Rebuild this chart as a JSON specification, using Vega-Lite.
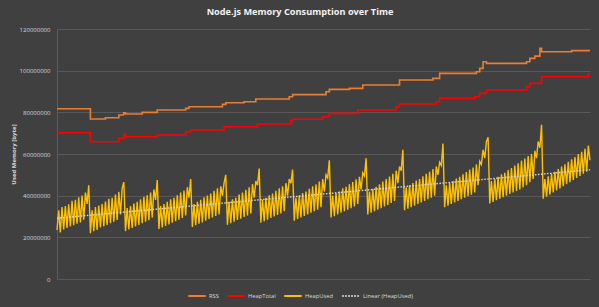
{
  "$schema": "https://vega.github.io/schema/vega-lite/v6.json",
  "autosize": {"type": "none"},
  "width": 533,
  "height": 250,
  "padding": {"left": 57, "top": 29, "right": 9, "bottom": 28},
  "background": "#404040",
  "title": {
    "text": "Node.js Memory Consumption over Time",
    "font": "Open Sans",
    "fontSize": 9.2,
    "fontWeight": "bold",
    "color": "#f2f2f2",
    "anchor": "middle",
    "dx": -23.5,
    "offset": 9
  },
  "config": {
    "view": {"stroke": null},
    "font": "Open Sans"
  },
  "datasets": {
    "heap": [
      {"t":0,"bytes":23500000},{"t":1,"bytes":33000000},{"t":2,"bytes":22300000},{"t":3,"bytes":34500000},{"t":4,"bytes":23800000},{"t":5,"bytes":35000000},{"t":6,"bytes":24500000},{"t":7,"bytes":35800000},{"t":8,"bytes":25200000},{"t":9,"bytes":37500000},
      {"t":10,"bytes":25800000},{"t":11,"bytes":38000000},{"t":12,"bytes":26500000},{"t":13,"bytes":39200000},{"t":14,"bytes":27200000},{"t":15,"bytes":40000000},{"t":16,"bytes":28500000},{"t":17,"bytes":41500000},{"t":18,"bytes":36000000},{"t":19,"bytes":45000000},
      {"t":20,"bytes":22000000},{"t":21,"bytes":33000000},{"t":22,"bytes":23000000},{"t":23,"bytes":34500000},{"t":24,"bytes":23500000},{"t":25,"bytes":35200000},{"t":26,"bytes":24800000},{"t":27,"bytes":36000000},{"t":28,"bytes":25300000},{"t":29,"bytes":37200000},
      {"t":30,"bytes":26000000},{"t":31,"bytes":38500000},{"t":32,"bytes":26800000},{"t":33,"bytes":39000000},{"t":34,"bytes":27500000},{"t":35,"bytes":40500000},{"t":36,"bytes":28300000},{"t":37,"bytes":41800000},{"t":38,"bytes":31000000},{"t":39,"bytes":43500000},
      {"t":40,"bytes":46500000},{"t":41,"bytes":23000000},{"t":42,"bytes":34000000},{"t":43,"bytes":23800000},{"t":44,"bytes":35000000},{"t":45,"bytes":24500000},{"t":46,"bytes":36200000},{"t":47,"bytes":25200000},{"t":48,"bytes":37000000},{"t":49,"bytes":26000000},
      {"t":50,"bytes":38300000},{"t":51,"bytes":26800000},{"t":52,"bytes":39500000},{"t":53,"bytes":27500000},{"t":54,"bytes":40200000},{"t":55,"bytes":28200000},{"t":56,"bytes":41500000},{"t":57,"bytes":29500000},{"t":58,"bytes":43000000},{"t":59,"bytes":38000000},
      {"t":60,"bytes":47500000},{"t":61,"bytes":24000000},{"t":62,"bytes":35000000},{"t":63,"bytes":24800000},{"t":64,"bytes":36000000},{"t":65,"bytes":25500000},{"t":66,"bytes":37000000},{"t":67,"bytes":26200000},{"t":68,"bytes":38300000},{"t":69,"bytes":27000000},
      {"t":70,"bytes":39000000},{"t":71,"bytes":27800000},{"t":72,"bytes":40200000},{"t":73,"bytes":28500000},{"t":74,"bytes":41500000},{"t":75,"bytes":29300000},{"t":76,"bytes":42500000},{"t":77,"bytes":30500000},{"t":78,"bytes":44000000},{"t":79,"bytes":39000000},
      {"t":80,"bytes":48000000},{"t":81,"bytes":25000000},{"t":82,"bytes":36000000},{"t":83,"bytes":25800000},{"t":84,"bytes":37000000},{"t":85,"bytes":26500000},{"t":86,"bytes":38000000},{"t":87,"bytes":27200000},{"t":88,"bytes":39200000},{"t":89,"bytes":28000000},
      {"t":90,"bytes":40000000},{"t":91,"bytes":28800000},{"t":92,"bytes":41000000},{"t":93,"bytes":29500000},{"t":94,"bytes":42300000},{"t":95,"bytes":30300000},{"t":96,"bytes":43500000},{"t":97,"bytes":31000000},{"t":98,"bytes":44500000},{"t":99,"bytes":40000000},
      {"t":100,"bytes":46000000},{"t":101,"bytes":50000000},{"t":102,"bytes":26000000},{"t":103,"bytes":37000000},{"t":104,"bytes":26800000},{"t":105,"bytes":38200000},{"t":106,"bytes":27500000},{"t":107,"bytes":39000000},{"t":108,"bytes":28300000},{"t":109,"bytes":40500000},
      {"t":110,"bytes":29000000},{"t":111,"bytes":41500000},{"t":112,"bytes":29800000},{"t":113,"bytes":42800000},{"t":114,"bytes":30500000},{"t":115,"bytes":44000000},{"t":116,"bytes":31500000},{"t":117,"bytes":45500000},{"t":118,"bytes":39000000},{"t":119,"bytes":47000000},
      {"t":120,"bytes":45000000},{"t":121,"bytes":53000000},{"t":122,"bytes":27000000},{"t":123,"bytes":38000000},{"t":124,"bytes":27800000},{"t":125,"bytes":39000000},{"t":126,"bytes":28500000},{"t":127,"bytes":40200000},{"t":128,"bytes":29300000},{"t":129,"bytes":41000000},
      {"t":130,"bytes":30000000},{"t":131,"bytes":42300000},{"t":132,"bytes":30800000},{"t":133,"bytes":43500000},{"t":134,"bytes":31500000},{"t":135,"bytes":44500000},{"t":136,"bytes":32500000},{"t":137,"bytes":46000000},{"t":138,"bytes":40000000},{"t":139,"bytes":48000000},
      {"t":140,"bytes":46000000},{"t":141,"bytes":52500000},{"t":142,"bytes":28000000},{"t":143,"bytes":39000000},{"t":144,"bytes":28800000},{"t":145,"bytes":40000000},{"t":146,"bytes":29500000},{"t":147,"bytes":41200000},{"t":148,"bytes":30300000},{"t":149,"bytes":42000000},
      {"t":150,"bytes":31000000},{"t":151,"bytes":43300000},{"t":152,"bytes":31800000},{"t":153,"bytes":44500000},{"t":154,"bytes":32500000},{"t":155,"bytes":45500000},{"t":156,"bytes":33300000},{"t":157,"bytes":46800000},{"t":158,"bytes":34500000},{"t":159,"bytes":48000000},
      {"t":160,"bytes":42000000},{"t":161,"bytes":50000000},{"t":162,"bytes":48500000},{"t":163,"bytes":57000000},{"t":164,"bytes":29500000},{"t":165,"bytes":40000000},{"t":166,"bytes":30200000},{"t":167,"bytes":41200000},{"t":168,"bytes":31000000},{"t":169,"bytes":42000000},
      {"t":170,"bytes":31800000},{"t":171,"bytes":43500000},{"t":172,"bytes":32500000},{"t":173,"bytes":44300000},{"t":174,"bytes":33300000},{"t":175,"bytes":45500000},{"t":176,"bytes":34000000},{"t":177,"bytes":46500000},{"t":178,"bytes":34800000},{"t":179,"bytes":47800000},
      {"t":180,"bytes":36000000},{"t":181,"bytes":49000000},{"t":182,"bytes":43000000},{"t":183,"bytes":51000000},{"t":184,"bytes":49500000},{"t":185,"bytes":58000000},{"t":186,"bytes":31000000},{"t":187,"bytes":42000000},{"t":188,"bytes":31800000},{"t":189,"bytes":43200000},
      {"t":190,"bytes":32500000},{"t":191,"bytes":44300000},{"t":192,"bytes":33300000},{"t":193,"bytes":45500000},{"t":194,"bytes":34000000},{"t":195,"bytes":46800000},{"t":196,"bytes":34800000},{"t":197,"bytes":48000000},{"t":198,"bytes":35500000},{"t":199,"bytes":49200000},
      {"t":200,"bytes":36500000},{"t":201,"bytes":50500000},{"t":202,"bytes":37500000},{"t":203,"bytes":52000000},{"t":204,"bytes":46000000},{"t":205,"bytes":54000000},{"t":206,"bytes":52000000},{"t":207,"bytes":62000000},{"t":208,"bytes":33000000},{"t":209,"bytes":44000000},
      {"t":210,"bytes":33800000},{"t":211,"bytes":45000000},{"t":212,"bytes":34500000},{"t":213,"bytes":46000000},{"t":214,"bytes":35200000},{"t":215,"bytes":47200000},{"t":216,"bytes":36000000},{"t":217,"bytes":48000000},{"t":218,"bytes":36800000},{"t":219,"bytes":49300000},
      {"t":220,"bytes":37500000},{"t":221,"bytes":50500000},{"t":222,"bytes":38300000},{"t":223,"bytes":51500000},{"t":224,"bytes":39000000},{"t":225,"bytes":52800000},{"t":226,"bytes":40000000},{"t":227,"bytes":54000000},{"t":228,"bytes":50000000},{"t":229,"bytes":56000000},
      {"t":230,"bytes":54500000},{"t":231,"bytes":65000000},{"t":232,"bytes":34500000},{"t":233,"bytes":45000000},{"t":234,"bytes":35200000},{"t":235,"bytes":46000000},{"t":236,"bytes":36000000},{"t":237,"bytes":47000000},{"t":238,"bytes":36800000},{"t":239,"bytes":48200000},
      {"t":240,"bytes":37500000},{"t":241,"bytes":49000000},{"t":242,"bytes":38300000},{"t":243,"bytes":50200000},{"t":244,"bytes":39000000},{"t":245,"bytes":51300000},{"t":246,"bytes":39800000},{"t":247,"bytes":52500000},{"t":248,"bytes":40500000},{"t":249,"bytes":53500000},
      {"t":250,"bytes":41500000},{"t":251,"bytes":55000000},{"t":252,"bytes":45000000},{"t":253,"bytes":56500000},{"t":254,"bytes":55000000},{"t":255,"bytes":62000000},{"t":256,"bytes":58000000},{"t":257,"bytes":66000000},{"t":258,"bytes":68000000},{"t":259,"bytes":36300000},
      {"t":260,"bytes":47000000},{"t":261,"bytes":37000000},{"t":262,"bytes":48000000},{"t":263,"bytes":37800000},{"t":264,"bytes":49000000},{"t":265,"bytes":38500000},{"t":266,"bytes":50200000},{"t":267,"bytes":39300000},{"t":268,"bytes":51000000},{"t":269,"bytes":40000000},
      {"t":270,"bytes":52300000},{"t":271,"bytes":40800000},{"t":272,"bytes":53200000},{"t":273,"bytes":41500000},{"t":274,"bytes":54500000},{"t":275,"bytes":42300000},{"t":276,"bytes":55500000},{"t":277,"bytes":43000000},{"t":278,"bytes":56800000},{"t":279,"bytes":44000000},
      {"t":280,"bytes":57800000},{"t":281,"bytes":45000000},{"t":282,"bytes":59000000},{"t":283,"bytes":46500000},{"t":284,"bytes":60000000},{"t":285,"bytes":48000000},{"t":286,"bytes":61500000},{"t":287,"bytes":58000000},{"t":288,"bytes":66000000},{"t":289,"bytes":63000000},
      {"t":290,"bytes":74000000},{"t":291,"bytes":38500000},{"t":292,"bytes":48000000},{"t":293,"bytes":39500000},{"t":294,"bytes":49300000},{"t":295,"bytes":40500000},{"t":296,"bytes":50500000},{"t":297,"bytes":41500000},{"t":298,"bytes":51500000},{"t":299,"bytes":42500000},
      {"t":300,"bytes":52800000},{"t":301,"bytes":43500000},{"t":302,"bytes":54000000},{"t":303,"bytes":44500000},{"t":304,"bytes":55000000},{"t":305,"bytes":45500000},{"t":306,"bytes":56300000},{"t":307,"bytes":46500000},{"t":308,"bytes":57500000},{"t":309,"bytes":47500000},
      {"t":310,"bytes":58500000},{"t":311,"bytes":48500000},{"t":312,"bytes":60000000},{"t":313,"bytes":49500000},{"t":314,"bytes":61000000},{"t":315,"bytes":50500000},{"t":316,"bytes":62500000},{"t":317,"bytes":51500000},{"t":318,"bytes":64000000},{"t":319,"bytes":57000000}
    ],
    "rss": [
      {"t":0,"bytes":81700000},{"t":20,"bytes":76800000},{"t":29,"bytes":77400000},{"t":37,"bytes":78700000},{"t":40,"bytes":79800000},{"t":41,"bytes":79200000},
      {"t":51,"bytes":80000000},{"t":60,"bytes":81100000},{"t":77,"bytes":81900000},{"t":79,"bytes":82700000},{"t":99,"bytes":83800000},{"t":101,"bytes":84600000},
      {"t":112,"bytes":85100000},{"t":119,"bytes":86400000},{"t":139,"bytes":87500000},{"t":141,"bytes":88500000},{"t":161,"bytes":89900000},{"t":163,"bytes":91000000},
      {"t":175,"bytes":91500000},{"t":183,"bytes":93100000},{"t":205,"bytes":95500000},{"t":225,"bytes":96300000},{"t":229,"bytes":98700000},{"t":251,"bytes":99500000},
      {"t":253,"bytes":101100000},{"t":255,"bytes":104300000},{"t":257,"bytes":103500000},{"t":281,"bytes":104300000},{"t":283,"bytes":105900000},{"t":286,"bytes":107000000},
      {"t":289,"bytes":110700000},{"t":290,"bytes":109100000},{"t":308,"bytes":109600000},{"t":319,"bytes":109600000}
    ],
    "ht": [
      {"t":0,"bytes":70200000},{"t":20,"bytes":65900000},{"t":37,"bytes":67500000},{"t":40,"bytes":69500000},{"t":41,"bytes":68300000},{"t":60,"bytes":69100000},
      {"t":77,"bytes":70700000},{"t":80,"bytes":71500000},{"t":100,"bytes":73100000},{"t":120,"bytes":74400000},{"t":140,"bytes":76000000},{"t":141,"bytes":76700000},
      {"t":159,"bytes":77900000},{"t":163,"bytes":79500000},{"t":180,"bytes":81100000},{"t":203,"bytes":82700000},{"t":205,"bytes":84000000},{"t":227,"bytes":85100000},
      {"t":229,"bytes":86700000},{"t":250,"bytes":87500000},{"t":253,"bytes":89100000},{"t":257,"bytes":90700000},{"t":281,"bytes":92300000},{"t":283,"bytes":93900000},
      {"t":290,"bytes":97100000},{"t":318,"bytes":98400000},{"t":319,"bytes":98400000}
    ]
  },
  "encoding": {
    "x": {"field": "t", "type": "quantitative", "axis": null, "scale": {"domain": [0, 319], "nice": false, "zero": false}},
    "y": {
      "field": "bytes", "type": "quantitative",
      "scale": {"domain": [0, 120000000], "nice": false},
      "axis": {
        "title": "Used Memory [byte]",
        "values": [0, 20000000, 40000000, 60000000, 80000000, 100000000, 120000000],
        "format": "d",
        "ticks": false,
        "domain": true,
        "domainColor": "#5e5e5e",
        "gridColor": "#595959",
        "gridWidth": 1,
        "labelFont": "Open Sans",
        "labelFontSize": 6,
        "labelColor": "#d9d9d9",
        "labelPadding": 7,
        "titleFont": "Open Sans",
        "titleFontSize": 6,
        "titleFontWeight": "bold",
        "titleColor": "#d9d9d9",
        "titlePadding": 3
      }
    },
    "color": {
      "datum": "RSS",
      "type": "nominal",
      "scale": {
        "domain": ["RSS", "HeapTotal", "HeapUsed", "Linear (HeapUsed)"],
        "range": ["#ED7D31", "#FF0000", "#FFC000", "#D9D9D9"]
      },
      "legend": {
        "title": null, "orient": "none", "direction": "horizontal", "legendX": 130, "legendY": 257,
        "symbolType": "stroke", "symbolSize": 306, "symbolStrokeWidth": 2,
        "labelFont": "Open Sans", "labelFontSize": 5.8, "labelColor": "#d9d9d9",
        "labelOffset": 2, "columnPadding": 4
      }
    },
    "strokeDash": {
      "datum": "RSS",
      "type": "nominal",
      "scale": {
        "domain": ["RSS", "HeapTotal", "HeapUsed", "Linear (HeapUsed)"],
        "range": [[1, 0], [1, 0], [1, 0], [1.5, 1.5]]
      },
      "legend": {
        "title": null, "orient": "none", "direction": "horizontal", "legendX": 130, "legendY": 257,
        "symbolType": "stroke", "symbolSize": 306, "symbolStrokeWidth": 2,
        "labelFont": "Open Sans", "labelFontSize": 5.8, "labelColor": "#d9d9d9",
        "labelOffset": 2, "columnPadding": 4
      }
    }
  },
  "layer": [
    {
      "data": {"name": "rss"},
      "mark": {"type": "line", "interpolate": "step-after", "strokeWidth": 1.6},
      "encoding": {"color": {"datum": "RSS"}, "strokeDash": {"datum": "RSS"}}
    },
    {
      "data": {"name": "ht"},
      "mark": {"type": "line", "interpolate": "step-after", "strokeWidth": 1.6},
      "encoding": {"color": {"datum": "HeapTotal"}, "strokeDash": {"datum": "HeapTotal"}}
    },
    {
      "data": {"name": "heap"},
      "mark": {"type": "line", "strokeWidth": 1.4},
      "encoding": {"color": {"datum": "HeapUsed"}, "strokeDash": {"datum": "HeapUsed"}}
    },
    {
      "data": {"name": "heap"},
      "transform": [{"regression": "bytes", "on": "t"}],
      "mark": {"type": "line", "strokeWidth": 1.4},
      "encoding": {"color": {"datum": "Linear (HeapUsed)"}, "strokeDash": {"datum": "Linear (HeapUsed)"}}
    }
  ]
}
